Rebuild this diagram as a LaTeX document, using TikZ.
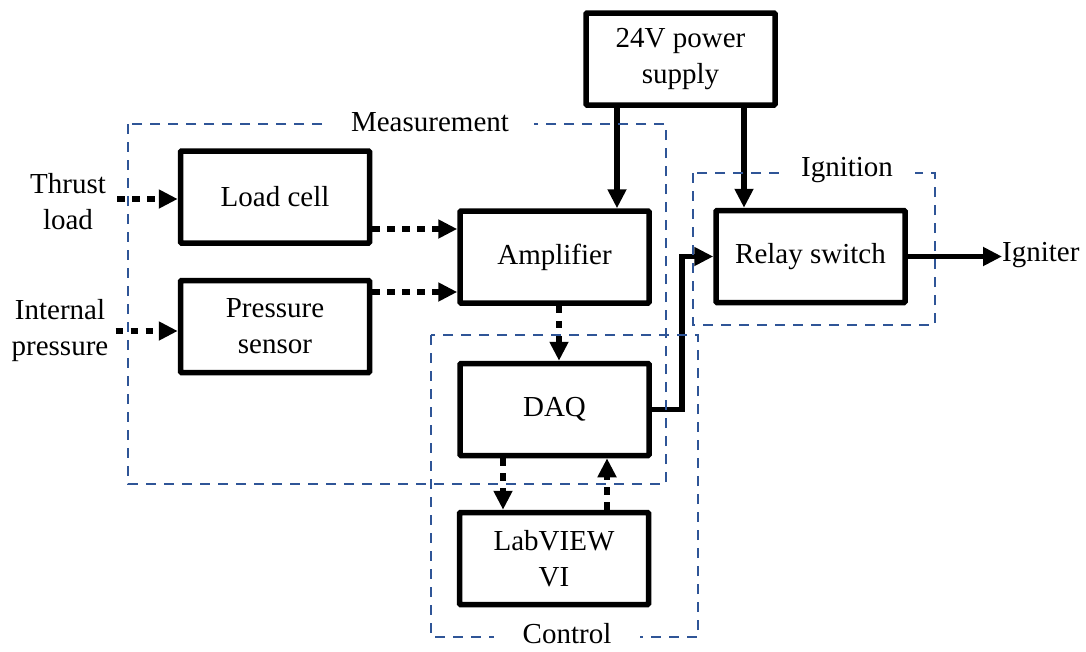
\documentclass[tikz,border=0pt]{standalone}
\usepackage{fontspec}
\setmainfont{Liberation Serif}
\usetikzlibrary{arrows.meta,calc}
\definecolor{grpblue}{RGB}{47,85,151}
\begin{document}
\begin{tikzpicture}[x=1pt,y=-1pt,
  font=\fontsize{29}{36}\selectfont,
  blk/.style={draw=black,line width=5.5pt,fill=white,minimum width=189pt,minimum height=92pt,inner sep=0pt,align=center,rounded corners=1pt},
  lbl/.style={inner sep=0pt,align=center},
  tip/.style={-{Triangle[length=19pt,width=18pt]}},
  solidarrow/.style={tip,line width=5.5pt},
  dotarrow/.style={tip,line width=6pt,dash pattern=on 7.5pt off 7.5pt},
  grp/.style={draw=grpblue,line width=1.8pt,dash pattern=on 10pt off 8pt},
  grplbl/.style={fill=white,inner ysep=2pt,inner xsep=24pt}
]
\useasboundingbox (0,0) rectangle (1086,651);

% blocks
\node[blk] (load)  at (275,197)   {Load cell};
\node[blk] (press) at (275,326.5) {Pressure\\sensor};
\node[blk] (amp)   at (554.5,257) {Amplifier};
\node[blk] (daq)   at (554.5,409.5) {DAQ};
\node[blk] (lab)   at (554,558.5) {LabVIEW\\VI};
\node[blk] (pow)   at (680.5,59)  {24V power\\supply};
\node[blk] (relay) at (810.5,256.5) {Relay switch};

% free labels
\node[lbl] (thrust) at (68,202) {Thrust\\load};
\node[lbl] (intp)   at (60,331) {Internal\\pressure};
\node[lbl,anchor=west] (ign) at (1002,255) {Igniter};

% connectors
\draw[dotarrow] ($(thrust.east)+(11,-3)$) coordinate (t1) -- (t1 -| load.west);
\draw[dotarrow] ($(intp.east)+(7,0)$) coordinate (t2) -- (t2 -| press.west);
\draw[dotarrow] ($(load.east)+(0,32)$) coordinate (t3) -- (t3 -| amp.west);
\draw[dotarrow] ($(press.east)+(0,-34.5)$) coordinate (t4) -- (t4 -| amp.west);
\draw[dotarrow] ($(amp.south)+(4.5,0)$) coordinate (t5) -- (t5 |- daq.north);
\draw[dotarrow] ($(daq.south)+(-51.5,0)$) coordinate (t6) -- (t6 |- lab.north);
\draw[dotarrow] ($(lab.north)+(53,0)$) coordinate (t7) -- (t7 |- daq.south);
\draw[solidarrow] ($(pow.south)+(-63.5,0)$) coordinate (t8) -- (t8 |- amp.north);
\draw[solidarrow] ($(pow.south)+(63.5,0)$) coordinate (t9) -- (t9 |- relay.north);
\draw[solidarrow] (daq.east) -- ++(30,0) coordinate (t10) |- (relay.west);
\draw[solidarrow] (relay.east) -- (relay.east -| ign.west);

% groups
\draw[grp] (128,124) rectangle (666,484);
\draw[grp] (431,335) rectangle (698,637);
\draw[grp] (693,173) rectangle (935,325);
\node[grplbl,inner xsep=25pt] (gmeas) at (430,122) {Measurement};
\node[grplbl,inner xsep=29pt] (gctrl) at (567,634) {Control};
\node[grplbl,inner xsep=22pt] (gign)  at (847,170) {Ignition};
\end{tikzpicture}
\end{document}
